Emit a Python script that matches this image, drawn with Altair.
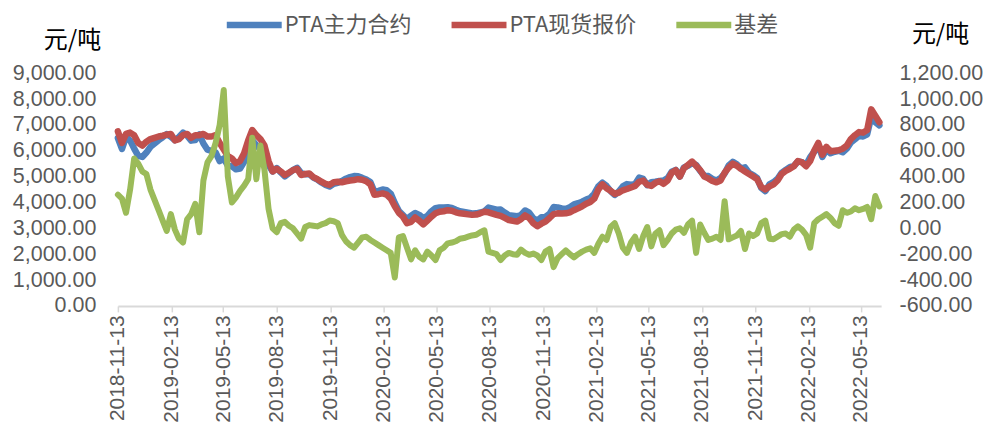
import altair as alt
import pandas as pd

# weekly sampling of the series, first point 2018-11-13
dates = pd.date_range("2018-11-13", periods=188, freq="7D")

futures = [6490, 6070, 6530, 6400, 6080, 5800, 5760, 5930, 6150, 6280,
           6410, 6520, 6640, 6540, 6410, 6530, 6700, 6580, 6390, 6410,
           6630, 6280, 6040, 5990, 5940, 5600, 5700, 5420, 5400, 5280,
           5310, 5570, 6020, 6400, 6220, 6050, 5750, 5450, 5200, 5330,
           5160, 5010, 5130, 5250, 5340, 5140, 5090, 5095, 4960, 4885,
           4770, 4680, 4620, 4725, 4760, 4830, 4920, 4980, 5020, 5010,
           4950, 4885, 4790, 4410, 4450, 4500, 4470, 4340, 3980, 3670,
           3510, 3350, 3490, 3590, 3520, 3390, 3480, 3660, 3780, 3810,
           3810, 3816, 3790, 3720, 3660, 3635, 3605, 3575, 3580, 3610,
           3655, 3800, 3760, 3720, 3725, 3610, 3510, 3490, 3465, 3515,
           3690, 3605, 3395, 3290, 3425, 3440, 3560, 3820, 3810, 3770,
           3750, 3820, 3925, 3970, 4030, 4115, 4175, 4340, 4620, 4765,
           4640, 4440, 4290, 4420, 4620, 4710, 4690, 4705, 4960, 4910,
           4670, 4780, 4800, 4835, 4850, 4940, 5190, 5260, 5000, 5355,
           5420, 5520, 5450, 5220, 5035, 5020, 4910, 4845, 4940, 5120,
           5435, 5570, 5475, 5320, 5360, 5140, 5060, 4940, 4560, 4440,
           4700, 4785, 4915, 5145, 5260, 5365, 5410, 5585, 5560, 5450,
           5750, 5960, 6230, 5760, 6040, 5900, 5960, 6000, 5940, 6080,
           6320, 6445, 6580, 6550, 6635, 7300, 7100, 6980]

spot = [6750, 6300, 6650, 6700, 6600, 6300, 6200, 6350, 6450, 6500,
        6550, 6580, 6620, 6650, 6400, 6450, 6600, 6650, 6500, 6600,
        6600, 6650, 6550, 6550, 6600, 6300, 6050, 5800, 5700, 5520,
        5600, 5900, 6400, 6800, 6600, 6450, 6200, 5600, 5200, 5300,
        5200, 5060, 5150, 5250, 5300, 5060, 5100, 5120, 4980, 4900,
        4800, 4720, 4680, 4780, 4800, 4780, 4820, 4850, 4870, 4900,
        4880, 4820, 4700, 4300, 4320, 4350, 4300, 4150, 3850, 3600,
        3450, 3200, 3250, 3420, 3300, 3150, 3300, 3450, 3580, 3640,
        3660, 3700, 3680, 3620, 3580, 3560, 3540, 3520, 3530, 3580,
        3640, 3620, 3570, 3520, 3480, 3400, 3320, 3290, 3260, 3350,
        3500, 3400, 3200, 3080, 3180, 3260, 3400, 3550, 3580, 3570,
        3580, 3620, 3700, 3770, 3850, 3950, 4020, 4150, 4500, 4700,
        4550, 4450, 4330, 4380, 4470, 4520, 4580, 4640, 4800, 4850,
        4680, 4640, 4760, 4820, 4720, 4850, 5150, 5250, 5000, 5320,
        5450, 5580, 5420, 5250, 5000, 4930, 4830, 4780, 4850, 5150,
        5350, 5500, 5420, 5300, 5200, 5100, 5000, 4900, 4600, 4500,
        4620, 4700, 4850, 5100, 5220, 5300, 5400, 5600, 5550, 5400,
        5600, 6000, 6300, 5850, 6150, 5980, 6000, 6020, 6080, 6200,
        6450, 6600, 6720, 6700, 6800, 7600, 7350, 7100]

basis = [260, 230, 120, 300, 540, 500, 440, 420, 300, 220,
         140, 60, -20, 110, -10, -80, -110, 70, 110, 190,
         -30, 370, 510, 560, 660, 800, 1070, 400, 200, 240,
         290, 330, 380, 700, 380, 640, 450, 150, 0, -30,
         40, 50, 20, 0, -40, -80, 10, 25, 20, 15,
         30, 40, 60, 55, 40, -50, -100, -130, -150, -110,
         -70, -65, -90, -110, -130, -150, -170, -190, -380, -70,
         -60, -150, -240, -170, -220, -240, -180, -210, -245, -170,
         -150, -116, -110, -100, -80, -75, -65, -55, -50, -30,
         -15, -180, -190, -200, -245, -210, -190, -200, -205, -165,
         -190, -205, -195, -210, -245, -180, -160, -300, -230, -200,
         -170, -200, -225, -200, -180, -165, -155, -190, -120, -65,
         -90, 10, 40, -40, -150, -190, -110, -65, -160, -60,
         10, -140, -40, -15, -130, -90, -40, -10, 0, -35,
         30, 60, -190, 30, -35, -90, -80, -65, -90, 210,
         -85, -70, -55, -20, -160, -40, -60, -40, 40, 60,
         -80, -85, -65, -45, -40, -65, -10, 15, -10, -50,
         -150, 40, 70, 90, 110, 80, 40, 20, 140, 120,
         130, 155, 140, 150, 165, 70, 250, 170]

series_names = ["PTA主力合约", "PTA现货报价", "基差"]
series_colors = ["#4F81BD", "#C0504D", "#9BBB59"]
tick_dates = [(2018, 11), (2019, 2), (2019, 5), (2019, 8), (2019, 11),
              (2020, 2), (2020, 5), (2020, 8), (2020, 11),
              (2021, 2), (2021, 5), (2021, 8), (2021, 11),
              (2022, 2), (2022, 5)]
left_ticks = list(range(0, 9001, 1000))
right_ticks = list(range(-600, 1201, 200))

n = len(dates)
price_df = pd.DataFrame({
    "date": list(dates) + list(dates),
    "value": futures + spot,
    "series": [series_names[0]] * n + [series_names[1]] * n,
})
basis_df = pd.DataFrame({"date": list(dates), "value": basis, "series": [series_names[2]] * n})

LABEL_FONT = "Liberation Sans"
CJK_FONT = "Noto Sans CJK SC"
GRAY = "#595959"

x_enc = alt.X(
    "date:T",
    scale=alt.Scale(domain=[alt.DateTime(year=2018, month=11, date=13),
                            alt.DateTime(year=2022, month=6, date=17)]),
    axis=alt.Axis(
        values=[alt.DateTime(year=y, month=m, date=13) for y, m in tick_dates],
        format="%Y-%m-%d", labelAngle=270, labelAlign="right", labelBaseline="middle",
        labelFont=LABEL_FONT, labelFontSize=21, labelColor=GRAY, labelPadding=3,
        domainColor="#D9D9D9", domainWidth=2, tickColor="#D9D9D9", tickSize=6, tickWidth=1.5,
        grid=False, title=None,
    ),
)

color_enc = alt.Color(
    "series:N",
    scale=alt.Scale(domain=series_names, range=series_colors),
    legend=alt.Legend(
        orient="none", legendX=124, legendY=-61, direction="horizontal", title=None,
        symbolType="M-3,0L3,0", symbolSize=336, symbolStrokeWidth=6.5,
        labelFont=CJK_FONT, labelFontSize=22, labelColor=GRAY, labelOffset=18,
        columnPadding=27,
    ),
)

price = alt.Chart(price_df).mark_line(strokeWidth=6.5, strokeCap="round", strokeJoin="round").encode(
    x=x_enc,
    y=alt.Y("value:Q",
            scale=alt.Scale(domain=[0, 9000], nice=False),
            axis=alt.Axis(values=left_ticks, format=",.2f", grid=False, domain=False, ticks=False,
                          labelFont=LABEL_FONT, labelFontSize=21.5, labelColor=GRAY, labelPadding=22,
                          title="元/吨", titleAngle=0, titleX=-46, titleY=-33,
                          titleAlign="center", titleBaseline="middle",
                          titleFont=CJK_FONT, titleFontSize=24, titleFontWeight="normal",
                          titleColor="#000000")),
    color=color_enc,
)

basis_line = alt.Chart(basis_df).mark_line(strokeWidth=6, strokeCap="round", strokeJoin="round").encode(
    x=alt.X("date:T"),
    y=alt.Y("value:Q",
            scale=alt.Scale(domain=[-600, 1200], nice=False),
            axis=alt.Axis(orient="right", values=right_ticks, grid=False, domain=False, ticks=False,
                          labelExpr="(datum.value < 0 ? '-' : '') + format(abs(datum.value), ',.2f')",
                          labelFont=LABEL_FONT, labelFontSize=21.5, labelColor=GRAY, labelPadding=18,
                          title="元/吨", titleAngle=0, titleX=59, titleY=-39,
                          titleAlign="center", titleBaseline="middle",
                          titleFont=CJK_FONT, titleFontSize=24, titleFontWeight="normal",
                          titleColor="#000000")),
    color=color_enc,
)

chart = alt.layer(price, basis_line).resolve_scale(y="independent").properties(
    width=764, height=233,
    autosize=alt.AutoSizeParams(type="none"),
    padding={"left": 110, "top": 65, "right": 112, "bottom": 120},
    background="white",
).configure_view(stroke=None)

chart.save("out.html", embed_options={"renderer": "svg", "actions": False})
